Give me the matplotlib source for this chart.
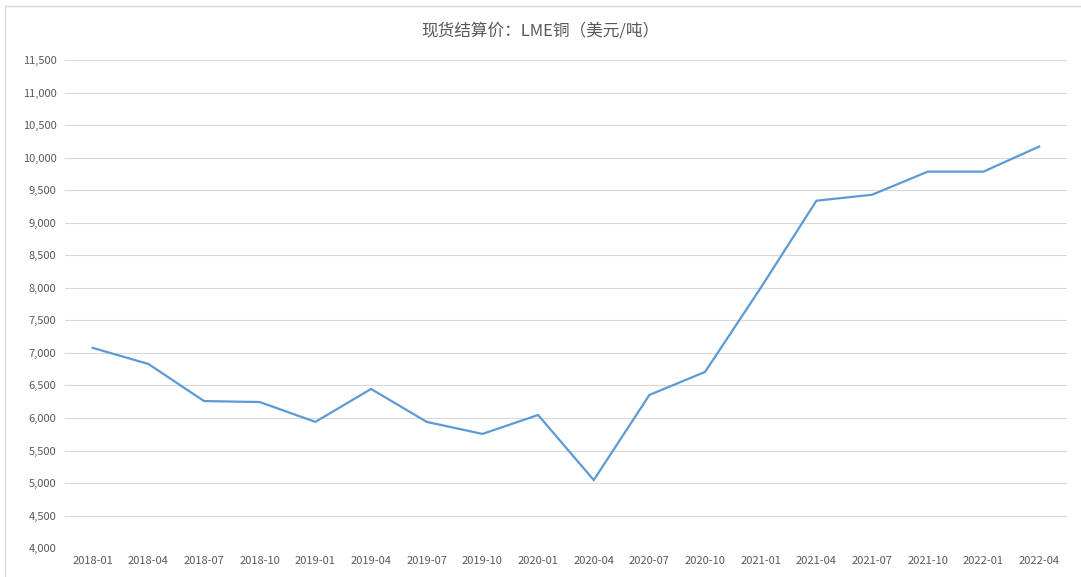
import matplotlib.pyplot as plt
from matplotlib.patches import Rectangle
from matplotlib.ticker import FuncFormatter

plt.rcParams['font.family'] = ['Noto Sans CJK SC', 'DejaVu Sans']

months = ['2018-01', '2018-04', '2018-07', '2018-10', '2019-01', '2019-04',
          '2019-07', '2019-10', '2020-01', '2020-04', '2020-07', '2020-10',
          '2021-01', '2021-04', '2021-07', '2021-10', '2022-01', '2022-04']
prices = [7077, 6830, 6260, 6245, 5940, 6446, 5940, 5755, 6046, 5046,
          6354, 6708, 8000, 9338, 9430, 9785, 9785, 10170]
y_ticks = list(range(4000, 11501, 500))

fig = plt.figure(figsize=(10.81, 5.77), dpi=100)
ax = fig.add_axes([0.060, 0.050, 0.927, 0.846])

x = range(len(months))
ax.plot(x, prices, color='#5B9BD5', linewidth=1.6, solid_joinstyle='miter')

ax.set_xlim(-0.5, len(months) - 0.5)
ax.set_ylim(4000, 11500)
ax.set_yticks(y_ticks)
ax.yaxis.set_major_formatter(FuncFormatter(lambda v, p: f'{int(v):,}'))
ax.set_xticks(list(x))
ax.set_xticklabels(months)
ax.grid(axis='y', color='#D9D9D9', linewidth=0.8)
ax.set_axisbelow(True)
for s in ax.spines.values():
    s.set_visible(False)
ax.tick_params(length=0, labelsize=8, colors='#595959', pad=6)

fig.text(0.5, 0.947, '现货结算价：LME铜（美元/吨）', ha='center', va='center',
         fontsize=12, color='#595959')

# chart frame (only left and top edges are inside the image)
fig.patches.append(Rectangle((5 / 1081, -0.1), 1.2, 1.1 - 6 / 577,
                             transform=fig.transFigure, fill=False,
                             edgecolor='#D9D9D9', linewidth=1))

fig.savefig('out.png', dpi=100)
